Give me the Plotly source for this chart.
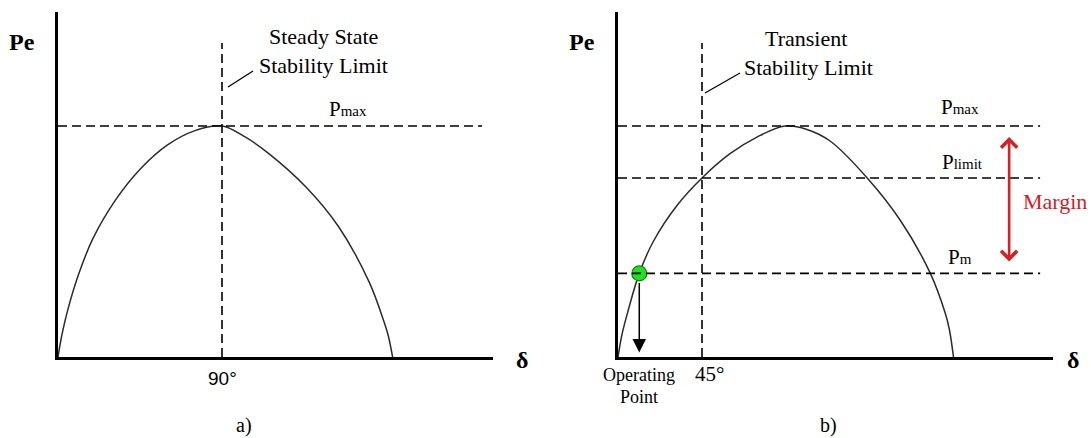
import plotly.graph_objects as go

# Canvas size in pixels
W, H = 1091, 438

# ---- data --------------------------------------------------------------
# a) steady-state power-angle curve (delta in degrees, Pe in per unit of Pmax)
delta_a = [0, 2.25, 5.4, 11.4, 19.0, 31.6, 45.3, 60.3, 74.8, 90.0,
           102.2, 115.0, 135.8, 153.9, 170.7, 179.0, 181.3, 183.6]
pe_a = [0, 0.10, 0.205, 0.36, 0.51, 0.68, 0.815, 0.919, 0.979, 1.0,
        0.955, 0.885, 0.738, 0.565, 0.325, 0.150, 0.09, 0]

# b) transient power-angle curve
delta_b = [0, 2.2, 5.4, 11.4, 18.9, 31.4, 45.0, 60.0, 74.4, 89.5,
           101.2, 113.6, 133.6, 151.1, 167.3, 175.3, 177.5, 179.7]
pe_b = [0, 0.10, 0.20, 0.362, 0.50, 0.654, 0.775, 0.88, 0.952, 1.0,
        0.985, 0.935, 0.774, 0.593, 0.362, 0.189, 0.119, 0]

p_max = 1.0
p_limit = 0.775
p_m = 0.362
op_delta = 11.4          # operating point angle
ss_limit_delta = 90.0    # steady-state stability limit
tr_limit_delta = 45.0    # transient stability limit
tick_a = "90°"
tick_b = "45°"

# ---- axis geometry -----------------------------------------------------
def fx(x):
    return x / W


def fy(y):
    return 1 - y / H


X_RANGE_A = 238.7
X_RANGE_B = 233.0
Y_RANGE = 1.4935
Y_DOMAIN = [fy(357), fy(12)]

SERIF = "Liberation Serif, Times New Roman, serif"
DASH = "9px,5px"
CURVE = "#2b2b2b"

fig = go.Figure()

fig.add_trace(go.Scatter(x=delta_a, y=pe_a, mode="lines",
                         line=dict(color=CURVE, width=1.5, shape="spline", smoothing=1.0),
                         xaxis="x", yaxis="y", hoverinfo="skip"))
fig.add_trace(go.Scatter(x=delta_b, y=pe_b, mode="lines",
                         line=dict(color=CURVE, width=1.5, shape="spline", smoothing=1.0),
                         xaxis="x2", yaxis="y2", hoverinfo="skip"))

# dashed reference lines
shapes = [
    dict(type="line", xref="x", yref="y", x0=0, x1=232.7, y0=p_max, y1=p_max,
         line=dict(color="black", width=1.6, dash=DASH)),
    dict(type="line", xref="x", yref="y", x0=ss_limit_delta, x1=ss_limit_delta, y0=0, y1=1.359,
         line=dict(color="black", width=1.6, dash=DASH)),
    dict(type="line", xref="x2", yref="y2", x0=tr_limit_delta, x1=tr_limit_delta, y0=0, y1=1.359,
         line=dict(color="black", width=1.6, dash=DASH)),
]
for level in (p_max, p_limit, p_m):
    shapes.append(dict(type="line", xref="x2", yref="y2", x0=0, x1=226.1, y0=level, y1=level,
                       line=dict(color="black", width=1.6, dash=DASH)))

# leader lines from the stability-limit captions
shapes.append(dict(type="line", xref="paper", yref="paper",
                   x0=fx(228), y0=fy(87), x1=fx(253), y1=fy(71),
                   line=dict(color="black", width=1.3)))
shapes.append(dict(type="line", xref="paper", yref="paper",
                   x0=fx(705), y0=fy(93), x1=fx(740), y1=fy(73),
                   line=dict(color="black", width=1.3)))

# operating point marker
fig.add_trace(go.Scatter(x=[op_delta], y=[p_m], mode="markers",
                         marker=dict(size=15, color="#22e022",
                                     line=dict(color="#1a7a1a", width=1.2)),
                         xaxis="x2", yaxis="y2", hoverinfo="skip"))


def label(text, x, y, size=20, color="black", family=SERIF, bold=False):
    if bold:
        text = "<b>" + text + "</b>"
    return dict(text=text, x=fx(x), y=fy(y), xref="paper", yref="paper",
                xanchor="center", yanchor="middle", showarrow=False,
                font=dict(family=family, size=size, color=color))


def sub(base, small):
    return base + "<span style='font-size:15px'>" + small + "</span>"


annotations = [
    label("Pe", 22, 42, size=24, bold=True),
    label("Pe", 582, 42, size=24, bold=True),
    label("δ", 522, 360, size=24, bold=True),
    label("δ", 1073, 360, size=24, bold=True),
    label("Steady State", 323, 37, size=22),
    label("Stability Limit", 323, 66, size=22),
    label("Transient", 806, 38, size=22),
    label("Stability Limit", 808, 67, size=22),
    label(sub("P", "max"), 348, 109, size=21),
    label(sub("P", "max"), 960, 107, size=21),
    label(sub("P", "limit"), 962, 162, size=21),
    label(sub("P", "m"), 960, 257, size=21),
    label("Margin", 1055, 201, size=22, color="#d42026"),
    label(tick_a, 222, 378, size=19, family="Liberation Sans, Arial, sans-serif"),
    label(tick_b, 709, 374, size=21),
    label("Operating", 639, 375, size=18),
    label("Point", 639, 397, size=18),
    label("a)", 244, 425, size=20),
    label("b)", 828, 425, size=20),
]

# arrow from the operating point down to the delta axis
annotations.append(dict(x=op_delta, y=0.02, ax=op_delta, ay=p_m,
                        xref="x2", yref="y2", axref="x2", ayref="y2",
                        showarrow=True, arrowhead=2, arrowsize=1.8, arrowwidth=1.5,
                        arrowcolor="black", startstandoff=8, standoff=0, text=""))

# double-headed margin arrow between Pm and Pmax
annotations.append(dict(x=209.5, y=0.952, ax=209.5, ay=0.407,
                        xref="x2", yref="y2", axref="x2", ayref="y2",
                        showarrow=True, arrowhead=4, startarrowhead=4, arrowside="end+start",
                        arrowsize=1.2, startarrowsize=1.2, arrowwidth=2.6,
                        arrowcolor="#d42026", text=""))

axis_common = dict(showline=True, linewidth=3, linecolor="black", showgrid=False,
                   zeroline=False, showticklabels=False, ticks="", fixedrange=True)

fig.update_layout(
    width=W, height=H,
    margin=dict(l=0, r=0, t=0, b=0),
    paper_bgcolor="white", plot_bgcolor="white",
    showlegend=False,
    xaxis=dict(domain=[fx(58), fx(493)], range=[0, X_RANGE_A], anchor="y", **axis_common),
    yaxis=dict(domain=Y_DOMAIN, range=[0, Y_RANGE], anchor="x", **axis_common),
    xaxis2=dict(domain=[fx(618), fx(1053)], range=[0, X_RANGE_B], anchor="y2", **axis_common),
    yaxis2=dict(domain=Y_DOMAIN, range=[0, Y_RANGE], anchor="x2", **axis_common),
    shapes=shapes,
    annotations=annotations,
)

fig.write_html("out.html")
